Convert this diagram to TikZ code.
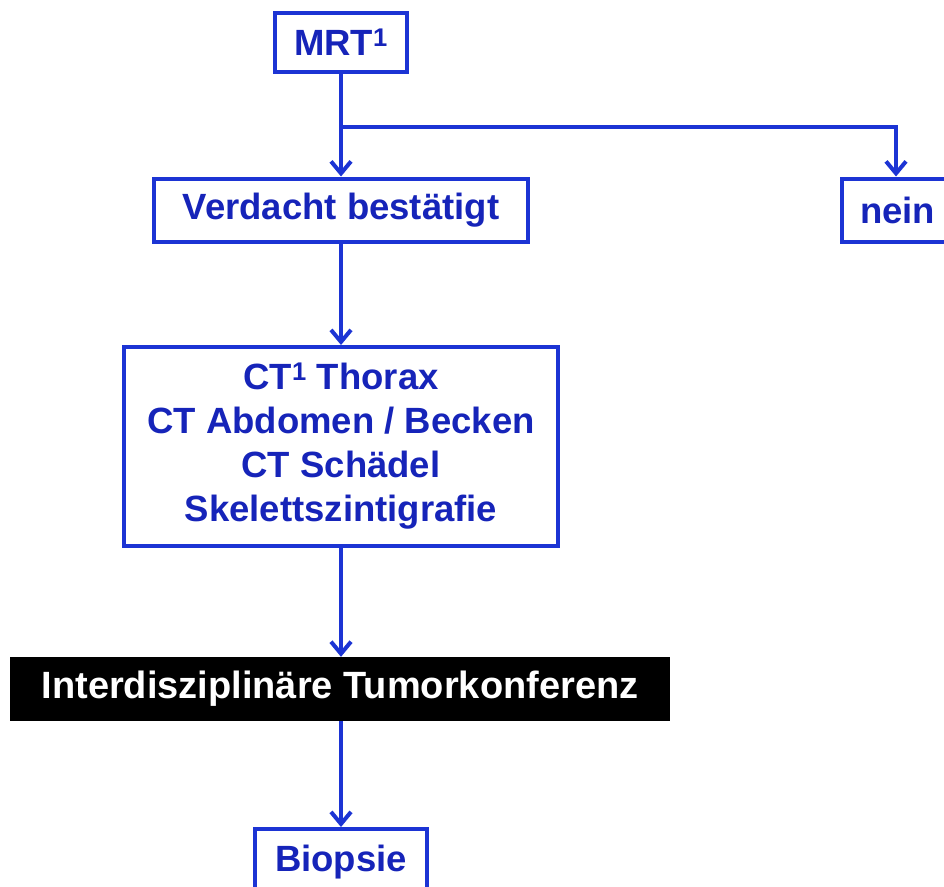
\documentclass[tikz,border=0pt]{standalone}
\usepackage{fontspec}
\setmainfont{Liberation Sans}
\usetikzlibrary{arrows.meta}
\definecolor{flowblue}{RGB}{28,52,212}
\definecolor{textblue}{RGB}{22,36,185}
\begin{document}
\begin{tikzpicture}[x=1pt,y=-1pt,
  box/.style={draw=flowblue, line width=4pt, fill=white, text=textblue,
    font=\fontsize{36.5}{44}\selectfont\bfseries, align=center, inner sep=0pt},
  darkbox/.style={fill=black, text=white,
    font=\fontsize{38}{44}\selectfont\bfseries, align=center, inner sep=0pt},
  flow/.style={draw=flowblue, line width=4pt,
    -{Straight Barb[length=12pt,width=20pt,line width=4pt]}},
  link/.style={draw=flowblue, line width=4pt}]
\useasboundingbox (0,0) rectangle (944,886);
\fill[white] (0,0) rectangle (944,886);

% boxes, all stacked on the axis x = 341
\node[box, minimum width=132pt, minimum height=59pt] (mrt) at (341,42.5) {MRT\textsuperscript{1}};
\node[box, minimum width=374pt, minimum height=63pt] (verdacht) at (341,210) {Verdacht bestätigt};
\node[box, anchor=west, text width=152pt, inner xsep=18pt, minimum height=63pt, align=left] (nein) at (840,210) {nein};
\node[box, minimum width=434pt, minimum height=199pt] (ct) at (341,446.5)
  {CT\textsuperscript{1} Thorax\\CT Abdomen / Becken\\CT Schädel\\Skelettszintigrafie};
\node[darkbox, minimum width=660pt, minimum height=64pt] (konferenz) at (340,689) {Interdisziplinäre Tumorkonferenz};
\node[box, anchor=north, minimum width=172pt, minimum height=66pt] (biopsie) at (341,827) {Biopsie};

% connectors
\coordinate (split) at (341,127);
\coordinate (neintop) at ([xshift=56pt]nein.north west);
\draw[link] (mrt.south) -- (split);
\draw[flow] (split) -- (verdacht.north);
\draw[flow] (split) -| (neintop);
\draw[flow] (verdacht.south) -- (ct.north);
\draw[flow] (ct.south) -- (konferenz.north -| ct.south);
\draw[flow] (konferenz.south -| ct.south) -- (biopsie.north);
\end{tikzpicture}
\end{document}
